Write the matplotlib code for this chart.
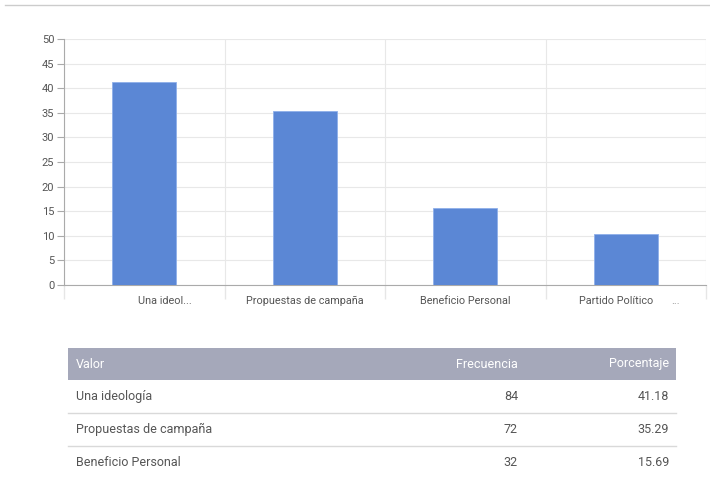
import matplotlib.pyplot as plt
from matplotlib.patches import Rectangle

# chart data
categories = ["Una ideol...", "Propuestas de campaña", "Beneficio Personal", "Partido Político"]
percentages = [41.18, 35.29, 15.69, 10.29]
y_ticks = [0, 5, 10, 15, 20, 25, 30, 35, 40, 45, 50]

# table data
table_header = ["Valor", "Frecuencia", "Porcentaje"]
table_labels = ["Una ideología", "Propuestas de campaña", "Beneficio Personal"]
table_freq = [84, 72, 32]
table_pct = [41.18, 35.29, 15.69]

W, H = 710, 478
plt.rcParams["font.family"] = ["Roboto", "DejaVu Sans"]
fig = plt.figure(figsize=(W / 100, H / 100), dpi=100)

# thin rule at the top of the page
fig.add_artist(plt.Line2D([5 / W, 1], [1 - 5 / H, 1 - 5 / H], color="#cccccc", lw=1))

# bar chart
ax = fig.add_axes([64 / W, 1 - 285 / H, (706 - 64) / W, (285 - 39) / H])
x = range(len(categories))
ax.bar(x, percentages, width=0.4, color="#5b87d5", edgecolor="#8fb0ea", linewidth=0.6, zorder=3)
ax.set_xlim(-0.5, len(categories) - 0.5)
ax.set_ylim(0, 50)
ax.set_yticks(y_ticks)
ax.set_yticklabels([str(v) for v in y_ticks], fontsize=8, color="#555555")
ax.tick_params(axis="y", length=5, color="#aaaaaa", pad=2)
ax.set_xticks([i - 0.5 for i in range(len(categories) + 1)])
ax.set_xticklabels([])
ax.tick_params(axis="x", length=10, color="#e6e6e6", width=1)
ax.grid(True, color="#e8e8e8", lw=0.8, zorder=0)
for s in ["top", "right"]:
    ax.spines[s].set_visible(False)
ax.spines["left"].set_color("#aaaaaa")
ax.spines["bottom"].set_color("#aaaaaa")

# category labels (first one appears nudged right, last one has trailing dots)
label_offsets = [0.13, 0.0, 0.0, -0.06]
for i, lab in enumerate(categories):
    ax.text(i + label_offsets[i], -2.2, lab, ha="center", va="top", fontsize=7.8, color="#555555")
ax.text(3.31, -2.2, "...", ha="center", va="top", fontsize=7.8, color="#888888")

# data table
tax = fig.add_axes([0, 0, 1, 1])
tax.set_xlim(0, W)
tax.set_ylim(H, 0)
tax.axis("off")
tax.add_patch(Rectangle((68, 348), 676 - 68, 32, color="#a5a8ba", lw=0))
tax.text(76, 364, table_header[0], ha="left", va="center", fontsize=9, color="white")
tax.text(518, 364, table_header[1], ha="right", va="center", fontsize=9, color="white")
tax.text(669, 364, table_header[2], ha="right", va="center", fontsize=9, color="white")
row_h = 33
for i, (lab, f, p) in enumerate(zip(table_labels, table_freq, table_pct)):
    yc = 380 + row_h * i + row_h / 2
    tax.text(76, yc, lab, ha="left", va="center", fontsize=9, color="#555555")
    tax.text(518, yc, str(f), ha="right", va="center", fontsize=9, color="#555555")
    tax.text(669, yc, f"{p:.2f}", ha="right", va="center", fontsize=9, color="#555555")
    if i < len(table_labels) - 1:
        tax.plot([68, 676], [380 + row_h * (i + 1)] * 2, color="#d9d9d9", lw=1)

fig.savefig("out.png", dpi=100)
